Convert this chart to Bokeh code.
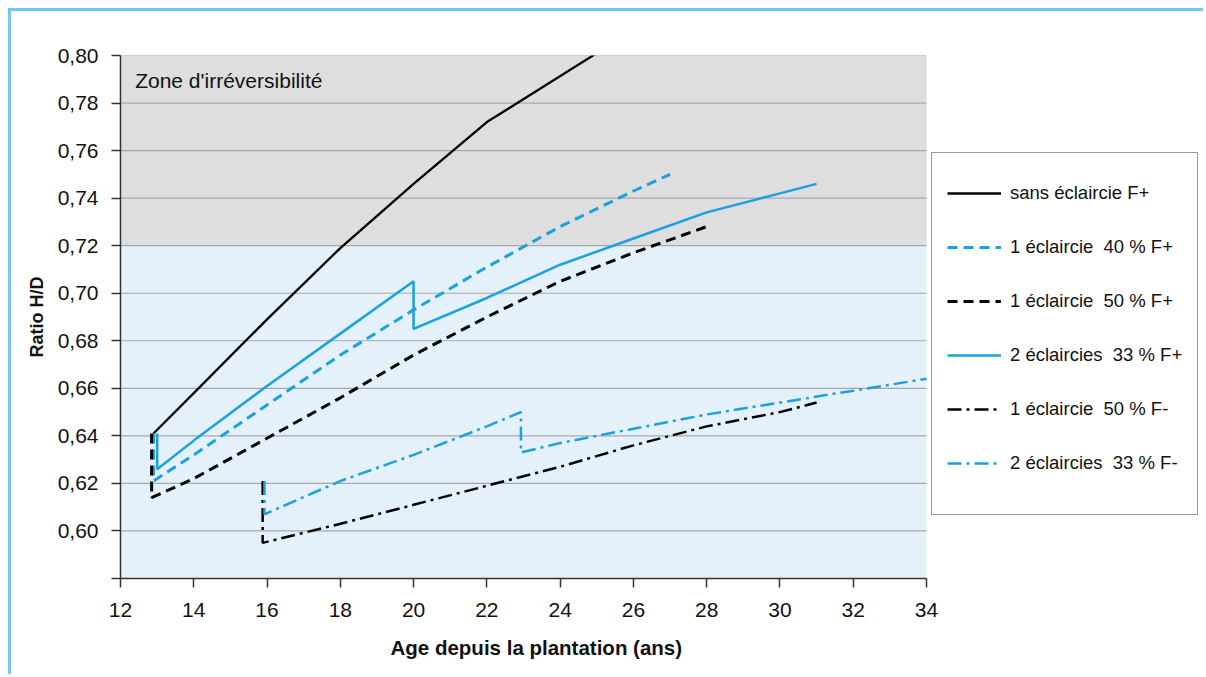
from bokeh.plotting import figure
from bokeh.models import (Range1d, FixedTicker, CustomJSTickFormatter, BoxAnnotation,
                          Legend, LegendItem, Label, Title)
from bokeh.embed import file_html
from bokeh.resources import INLINE

# ---- data ----
x_ticks = [12, 14, 16, 18, 20, 22, 24, 26, 28, 30, 32, 34]
y_ticks = [0.58, 0.60, 0.62, 0.64, 0.66, 0.68, 0.70, 0.72, 0.74, 0.76, 0.78, 0.80]

age_sans = [12.9, 14, 16, 18, 20, 22, 25]
hd_sans = [0.641, 0.658, 0.689, 0.719, 0.746, 0.772, 0.801]

age_1e40 = [12.9, 12.9, 14, 16, 18, 20, 22, 24, 26, 27]
hd_1e40 = [0.641, 0.621, 0.632, 0.653, 0.674, 0.693, 0.711, 0.728, 0.743, 0.750]

age_1e50 = [12.85, 12.85, 14, 16, 18, 20, 22, 24, 26, 28]
hd_1e50 = [0.641, 0.614, 0.622, 0.639, 0.656, 0.674, 0.690, 0.705, 0.717, 0.728]

age_2e33 = [13.0, 13.0, 14, 16, 18, 20, 20, 22, 24, 26, 28, 30, 31]
hd_2e33 = [0.641, 0.626, 0.638, 0.661, 0.683, 0.705, 0.685, 0.698, 0.712, 0.723, 0.734, 0.742, 0.746]

age_1e50m = [15.88, 15.88, 18, 20, 22, 24, 26, 28, 30, 31]
hd_1e50m = [0.621, 0.595, 0.603, 0.611, 0.619, 0.627, 0.636, 0.644, 0.650, 0.654]

age_2e33m = [15.93, 15.93, 18, 20, 22, 22.93, 22.93, 24, 26, 28, 30, 32, 34]
hd_2e33m = [0.621, 0.607, 0.621, 0.632, 0.644, 0.650, 0.633, 0.637, 0.643, 0.649, 0.654, 0.659, 0.664]

labels = ["sans éclaircie F+", "1 éclaircie  40 % F+", "1 éclaircie  50 % F+",
          "2 éclaircies  33 % F+", "1 éclaircie  50 % F-", "2 éclaircies  33 % F-"]

x_title = "Age depuis la plantation (ans)"
y_title = "Ratio H/D"
zone_text = "Zone d'irréversibilité"

zone_irrev = (0.72, 0.80)
zone_ok = (0.58, 0.72)

# ---- styles ----
BLUE = "#1ba1df"
BLACK = "#000000"
FONT = "Liberation Sans"
BORDER = "#74c8f0"

X0, X1 = x_ticks[0], x_ticks[-1]
PX_PER_UNIT = 806 / (X1 - X0)
FRAME_W = 1195 - 109
X_END = X0 + FRAME_W / PX_PER_UNIT

p = figure(width=1195, height=666, output_backend="svg", toolbar_location=None,
           x_range=Range1d(X0, X_END), y_range=Range1d(y_ticks[0], y_ticks[-1]),
           min_border_left=109, min_border_top=44, min_border_bottom=99,
           min_border_right=0, background_fill_color="white",
           border_fill_color="white", outline_line_color=None)
p.styles = {"margin-left": "8px", "margin-top": "8px",
            "border-left": f"3px solid {BORDER}", "border-top": f"3px solid {BORDER}"}

p.add_layout(BoxAnnotation(left=X0, right=X1, bottom=zone_irrev[0], top=zone_irrev[1],
                           fill_color="#dedede", fill_alpha=1, line_color=None, level="image"))
p.add_layout(BoxAnnotation(left=X0, right=X1, bottom=zone_ok[0], top=zone_ok[1],
                           fill_color="#e5f1fa", fill_alpha=1, line_color=None, level="image"))

p.xgrid.visible = False
p.ygrid.visible = False
p.segment(x0=[X0] * len(y_ticks), y0=y_ticks, x1=[X1] * len(y_ticks), y1=y_ticks,
          line_color="#a8a8a8", line_width=1.2, level="underlay")

p.xaxis.ticker = FixedTicker(ticks=x_ticks)
p.xaxis.bounds = (X0, X1)
p.yaxis.ticker = FixedTicker(ticks=y_ticks)
p.yaxis.formatter = CustomJSTickFormatter(code="""
    if (Math.abs(tick - 0.58) < 1e-6) { return ""; }
    return tick.toFixed(2).replace('.', ',');
""")
for ax in (p.xaxis[0], p.yaxis[0]):
    ax.axis_line_color = "#333333"
    ax.axis_line_width = 1.5
    ax.major_tick_line_color = "#333333"
    ax.major_tick_line_width = 1.5
    ax.major_tick_in = 0
    ax.major_tick_out = 9
    ax.minor_tick_line_color = None
    ax.major_label_text_font = FONT
    ax.major_label_text_font_size = "21px"
    ax.major_label_text_color = "#111111"
    ax.axis_label_text_font = FONT
    ax.axis_label_text_font_style = "bold"
    ax.axis_label_text_color = "#111111"

p.xaxis.major_label_standoff = 15
p.yaxis.axis_label = y_title
p.yaxis.axis_label_text_font_size = "18px"
p.yaxis.major_label_standoff = 13
p.yaxis.axis_label_standoff = 8

# x-axis title placed under the 12..34 span (frame extends right to hold the legend)
p.add_layout(Title(text=x_title, align="left", offset=270,
                   text_font=FONT, text_font_size="20.5px", text_font_style="bold",
                   text_color="#111111", standoff=28), "below")

r1 = p.line(age_sans, hd_sans, line_color=BLACK, line_width=2.3)
r2 = p.line(age_1e40, hd_1e40, line_color=BLUE, line_width=3, line_dash="10 6")
r3 = p.line(age_1e50, hd_1e50, line_color=BLACK, line_width=3, line_dash="10 6")
r4 = p.line(age_2e33, hd_2e33, line_color=BLUE, line_width=2.5)
r5 = p.line(age_1e50m, hd_1e50m, line_color=BLACK, line_width=2.5, line_dash="14 5 3 5")
r6 = p.line(age_2e33m, hd_2e33m, line_color=BLUE, line_width=2.5, line_dash="14 5 3 5")

p.add_layout(Label(x=12.4, y=0.7895, text=zone_text, text_font=FONT,
                   text_font_size="21px", text_baseline="middle", text_color="#111111"))

legend = Legend(items=[LegendItem(label=l, renderers=[r]) for l, r in
                       zip(labels, [r1, r2, r3, r4, r5, r6])],
                location=(811, 63), padding=15, spacing=4, label_height=50, glyph_height=50,
                glyph_width=54, label_standoff=9, label_text_font=FONT,
                label_text_font_size="18.5px", label_text_color="#111111",
                border_line_color="#333333", border_line_width=1.5,
                background_fill_color="white", background_fill_alpha=1, margin=0,
                title=" ", title_location="below", title_text_font_size="10px",
                title_standoff=0)
p.add_layout(legend, "center")

open("out.html", "w").write(file_html(p, INLINE))
